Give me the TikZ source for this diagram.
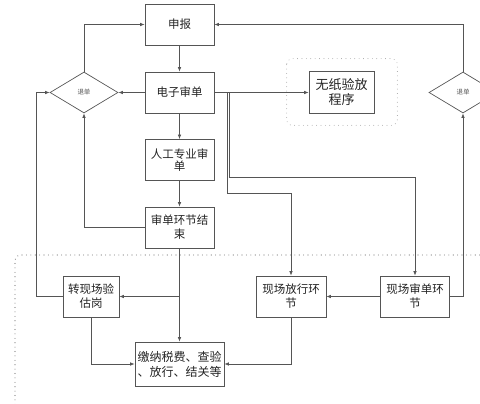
\documentclass[tikz,border=0pt]{standalone}
\usepackage{fontspec}
\setmainfont{Noto Sans CJK SC}
\usetikzlibrary{arrows.meta,positioning,shapes.geometric}
\definecolor{LineGray}{RGB}{85,85,85}
\definecolor{DotGray}{RGB}{120,120,120}
\definecolor{TextDark}{RGB}{35,35,35}

\begin{document}
\begin{tikzpicture}[
        x=1pt, y=-1pt,
        box/.style={draw=LineGray, line width=0.7pt, align=center, inner sep=1pt, minimum width=69pt, minimum height=41pt, text=TextDark, font=\fontsize{11.5}{14}\selectfont},
        choice/.style={draw=LineGray, line width=0.7pt, diamond, inner sep=0pt, minimum width=68pt, minimum height=41pt, text=LineGray, font=\fontsize{6.5}{7}\selectfont},
        arrow/.style={-{Latex[length=4.5pt,width=3.6pt]}, line width=0.7pt, draw=LineGray},
        dotframe/.style={draw=DotGray, line width=1.1pt, line cap=round, dash pattern=on 0pt off 4.4pt}
      ]
        \useasboundingbox (0,0) rectangle (480,404);
        \clip (0,0) rectangle (480,404);
        % review chain
        \node[box] (declare) at (179.5,24.5) {申报};
        \node[box] (edoc) at (179.5,92.5) {电子审单};
        \node[box, font=\fontsize{11.5}{12.5}\selectfont] (manual) at (179.5,160) {人工专业审\\单};
        \node[box] (reviewEnd) at (179.5,227.5) {审单环节结\\束};
        \node[choice] (returnL) at (84,92.5) {退单};
        \node[choice] (returnR) at (463,92.5) {退单};
        \node[box, minimum width=65pt, minimum height=42pt, font=\fontsize{13}{15.5}\selectfont] (paperless) at (341.5,92) {无纸验放\\程序};
        % on-site part
        \node[box, minimum width=56pt] (onsiteCheck) at (91,296.5) {转现场验\\估岗};
        \node[box, minimum width=70pt] (onsiteRelease) at (291,296.5) {现场放行环\\节};
        \node[box] (onsiteReview) at (415,296.5) {现场审单环\\节};
        \node[box, minimum width=89pt, minimum height=44pt, font=\fontsize{12}{15}\selectfont] (payTax) at (179.5,364) {缴纳税费、查验\\、放行、结关等};
        % frames
        \draw[dotframe, draw=DotGray!70, line width=0.9pt, rounded corners=6pt] ([shift={(-22,-12)}]paperless.north west) rectangle ([shift={(23,12)}]paperless.south east);
        \draw[dotframe, rounded corners=5pt] (484,255) -| (15,408);
        % connectors
        \draw[arrow] (declare) -- (edoc);
        \draw[arrow] (edoc) -- (returnL);
        \draw[arrow] (returnL.north) |- (declare.west);
        \draw[arrow] (returnR.north) |- (declare.east);
        \draw[arrow] (edoc) -- (manual);
        \draw[arrow] (manual) -- (reviewEnd);
        \draw[arrow] (edoc.east) -- (paperless.west |- edoc.east);
        \draw[arrow] (reviewEnd.west) -| (returnL.south);
        \draw[arrow] (reviewEnd) -- (payTax);
        \draw[arrow] (reviewEnd.south |- onsiteCheck.east) -- (onsiteCheck.east);
        \draw[arrow] (onsiteCheck.west) -| ([xshift=-13pt]returnL.west) -- (returnL.west);
        \draw[arrow] (onsiteCheck.south) |- (payTax.west);
        \draw[arrow] ([xshift=15pt]edoc.east) -- ++(0,85) -| (onsiteReview.north);
        \draw[arrow] ([xshift=13pt]edoc.east) -- ++(0,101) -| (onsiteRelease.north);
        \draw[arrow] (onsiteReview) -- (onsiteRelease);
        \draw[arrow] (onsiteReview.east) -| (returnR.south);
        \draw[arrow] (onsiteRelease.south) |- (payTax.east);
      \end{tikzpicture}
\end{document}
